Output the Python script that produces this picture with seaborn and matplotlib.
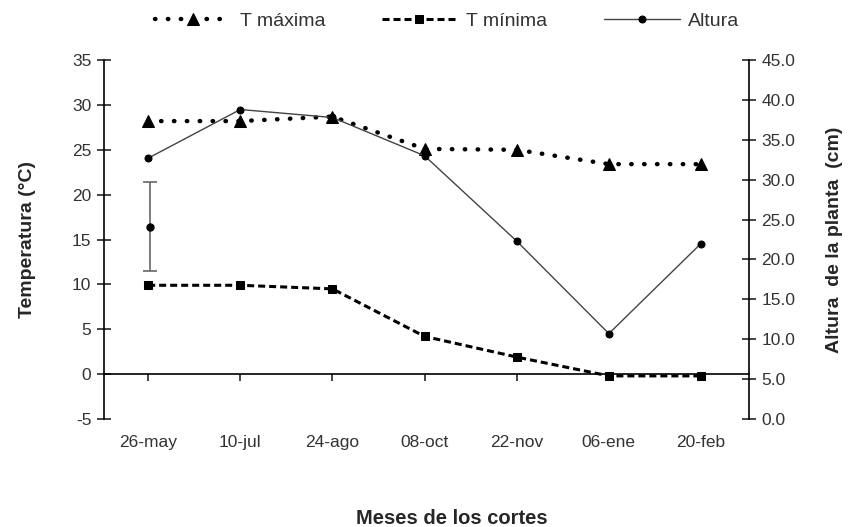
import matplotlib
matplotlib.use("Agg")
import matplotlib.pyplot as plt
import seaborn as sns
import pandas as pd
import numpy as np

meses = ["26-may", "10-jul", "24-ago", "08-oct", "22-nov", "06-ene", "20-feb"]
t_maxima = [28.2, 28.2, 28.7, 25.1, 25.0, 23.4, 23.4]
t_minima = [9.9, 9.9, 9.5, 4.2, 1.9, -0.2, -0.2]
altura = [32.7, 38.8, 37.8, 33.0, 22.3, 10.7, 22.0]
lsd_centro = 24.1
lsd_medio = 5.55

sns.set_style("white")
plt.rcParams['font.family'] = ['Liberation Sans', 'DejaVu Sans']
plt.rcParams['axes.unicode_minus'] = False

df = pd.DataFrame({"x": np.arange(len(meses)), "mes": meses,
                   "tmax": t_maxima, "tmin": t_minima, "alt": altura})

fig = plt.figure(figsize=(8.52, 5.27), dpi=100)
ax = fig.add_axes([0.122, 0.205, 0.757, 0.681])
ax2 = ax.twinx()

sns.lineplot(data=df, x="x", y="tmax", ax=ax, color="black", linestyle=(0, (0.1, 2.8)),
             dash_capstyle="round", lw=3.2, marker="^", markersize=9, mec="black",
             label="T máxima", legend=False)
sns.lineplot(data=df, x="x", y="tmin", ax=ax, color="black", linestyle=(0, (2.3, 1.3)),
             lw=2.2, marker="s", markersize=5.5, mec="black", label="T mínima", legend=False)
sns.lineplot(data=df, x="x", y="alt", ax=ax2, color="#444444", lw=1.0, marker="o",
             markersize=5, mec="black", mfc="black", label="Altura", legend=False)
ax2.errorbar([0.02], [lsd_centro], yerr=[lsd_medio], fmt="o", color="black", ms=5,
             ecolor="#666666", elinewidth=1.2, capsize=5, capthick=1.2)

ax.set_xlim(-0.48, 6.52)
ax.set_ylim(-5, 35)
ax.set_yticks(np.arange(-5, 36, 5))
ax2.set_ylim(0, 45)
ax2.set_yticks(np.arange(0, 46, 5))
ax2.set_yticklabels([f"{v:.1f}" for v in np.arange(0, 46, 5)])

ax.set_xticks(df["x"])
ax.set_xticklabels(meses)

for a in (ax, ax2):
    a.spines["top"].set_visible(False)
ax.spines["right"].set_visible(False)
ax2.spines["left"].set_visible(False)
ax2.spines["bottom"].set_visible(False)
ax.spines["bottom"].set_position(("data", 0))
for s in ("left", "bottom"):
    ax.spines[s].set_color("black")
    ax.spines[s].set_linewidth(1.2)
ax2.spines["right"].set_color("black")
ax2.spines["right"].set_linewidth(1.2)

tcol = "#333333"
ax.tick_params(axis="y", direction="inout", length=10, width=1.2, labelsize=12.5,
               labelcolor=tcol, left=True, pad=4)
ax2.tick_params(axis="y", direction="inout", length=10, width=1.2, labelsize=12.5,
                labelcolor=tcol, right=True, pad=4)
ax.tick_params(axis="x", direction="out", length=5, width=1.2, labelsize=12.5,
               labelcolor=tcol, bottom=True, pad=39)

ax.set_xlabel("Meses de los cortes", fontsize=14.5, fontweight="bold")
ax.xaxis.set_label_coords(0.54, -0.25)
ax.set_ylabel("Temperatura (°C)", fontsize=14, fontweight="bold")
ax.yaxis.set_label_coords(-0.105, 0.5)
ax2.set_ylabel("Altura  de la planta  (cm)", fontsize=14, fontweight="bold")
ax2.yaxis.set_label_coords(1.12, 0.5)

h1, l1 = ax.get_legend_handles_labels()
h2, l2 = ax2.get_legend_handles_labels()
fig.legend(h1 + h2[:1], l1 + l2[:1], loc="upper center", bbox_to_anchor=(0.525, 1.01),
           ncol=3, frameon=False, fontsize=14, handlelength=3.9, columnspacing=2.9,
           handletextpad=0.45, labelcolor=tcol)

fig.savefig("out.png", dpi=100)
